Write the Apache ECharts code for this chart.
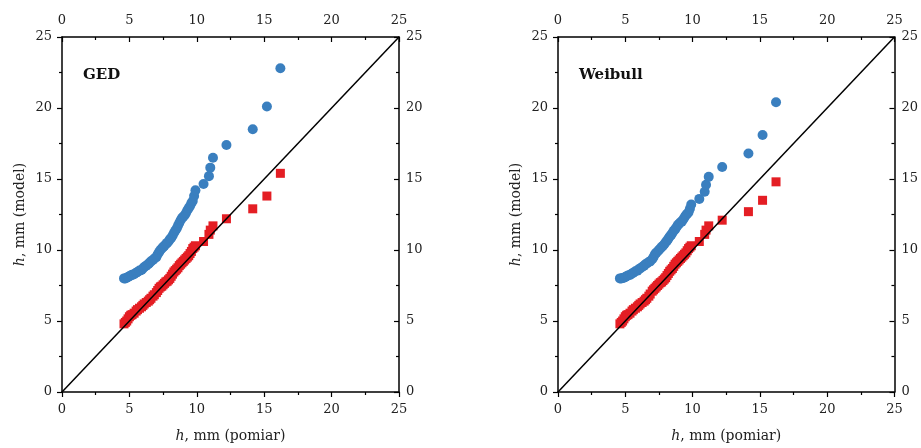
<!DOCTYPE html>
<html>
<head>
<meta charset="utf-8">
<script src="https://cdn.jsdelivr.net/npm/echarts@6/dist/echarts.min.js"></script>
<style>html,body{margin:0;padding:0;background:#fff}#c{width:921px;height:448px}</style>
</head>
<body>
<div id="c"></div>
<script>
// measured values (h, mm pomiar) – shared by both panels
const measured = [4.6,4.7,4.8,4.9,5.0,5.1,5.2,5.35,5.5,5.6,5.75,5.9,6.0,6.1,6.25,6.4,6.5,6.6,6.75,6.85,7.0,7.1,7.2,7.3,7.4,7.5,7.6,7.7,7.8,7.9,8.0,8.1,8.2,8.3,8.4,8.5,8.6,8.7,8.8,8.9,9.0,9.1,9.2,9.3,9.4,9.5,9.6,9.7,9.8,9.9,10.5,10.9,11.0,11.2,12.2,14.15,15.2,16.2];
// GED panel – blue circles and red squares (model values)
const gedBlue = [8.0,8.0,8.05,8.1,8.15,8.2,8.25,8.3,8.4,8.45,8.55,8.6,8.7,8.8,8.9,9.0,9.1,9.2,9.3,9.4,9.5,9.7,9.85,10.0,10.1,10.2,10.3,10.4,10.5,10.6,10.75,10.85,11.0,11.2,11.35,11.5,11.7,11.9,12.1,12.25,12.35,12.45,12.6,12.8,12.95,13.1,13.3,13.45,13.8,14.2,14.65,15.2,15.8,16.5,17.4,18.5,20.1,22.8];
const gedRed = [4.8,4.9,5.0,5.15,5.3,5.4,5.45,5.55,5.7,5.8,5.9,6.0,6.1,6.2,6.3,6.4,6.5,6.6,6.75,6.85,7.0,7.15,7.3,7.4,7.45,7.55,7.65,7.75,7.8,7.9,8.0,8.15,8.3,8.45,8.55,8.65,8.75,8.9,9.0,9.1,9.2,9.3,9.4,9.5,9.6,9.75,9.9,10.1,10.2,10.3,10.6,11.1,11.4,11.7,12.2,12.9,13.8,15.4];
// Weibull panel
const weiBlue = [8.0,8.0,8.03,8.05,8.1,8.15,8.2,8.25,8.35,8.4,8.5,8.55,8.65,8.7,8.8,8.9,9.0,9.05,9.15,9.2,9.35,9.5,9.7,9.8,9.9,10.0,10.1,10.2,10.3,10.4,10.55,10.65,10.8,10.95,11.05,11.2,11.35,11.45,11.6,11.75,11.85,11.95,12.0,12.15,12.3,12.45,12.55,12.65,12.9,13.2,13.6,14.1,14.6,15.15,15.85,16.8,18.1,20.4];
const weiRed = [4.8,4.9,5.0,5.15,5.3,5.4,5.45,5.55,5.7,5.8,5.9,6.0,6.1,6.2,6.3,6.4,6.5,6.6,6.75,6.9,7.1,7.2,7.3,7.4,7.5,7.6,7.7,7.75,7.85,7.95,8.05,8.2,8.35,8.5,8.6,8.7,8.85,9.0,9.1,9.2,9.3,9.4,9.5,9.6,9.7,9.8,9.95,10.1,10.2,10.3,10.6,11.1,11.4,11.7,12.1,12.7,13.5,14.8];
const diag = [0, 25];
const panelTitles = ['GED', 'Weibull'];
const xName = '{i|h}, mm (pomiar)';
const yName = '{i|h}, mm (model)';

const FONT = 'DejaVu Serif';
const BLUE = '#3a7fbf', RED = '#e41e24';
const lbl = {fontFamily: FONT, fontSize: 13, color: '#222'};
const rich = {i: {fontFamily: FONT, fontStyle: 'italic', fontSize: 14, color: '#222'}};
const lineStyle = {color: '#000', width: 1.5};

function pair(xs, ys){ return xs.map((x,i)=>[x, ys[i]]); }

const lefts = [62, 558];
const grids = [], xAxes = [], yAxes = [], series = [], titles = [];
[[gedBlue, gedRed],[weiBlue, weiRed]].forEach((d, p) => {
  grids.push({left: lefts[p], top: 37, width: 337, height: 356, containLabel: false});
  const base = {min: 0, max: 25, interval: 5, gridIndex: p,
    axisLine: {show: true, onZero: false, lineStyle},
    splitLine: {show: false},
    minorTick: {show: true, splitNumber: 2, length: 3, lineStyle: {color: '#000', width: 1.2}},
    axisLabel: Object.assign({margin: 8}, lbl)};
  xAxes.push(Object.assign({}, base, {type: 'value', position: 'bottom',
    axisTick: {inside: false, length: 5, lineStyle: {color: '#000', width: 1.2}},
    axisLabel: Object.assign({}, lbl, {margin: 11}),
    name: xName, nameLocation: 'middle', nameGap: 37,
    nameTextStyle: {fontFamily: FONT, fontSize: 14, color: '#222', rich}}));
  xAxes.push(Object.assign({}, base, {type: 'value', position: 'top',
    axisTick: {inside: true, length: 5, lineStyle: {color: '#000', width: 1.2}},
    axisLabel: Object.assign({}, lbl, {margin: 10})}));
  yAxes.push(Object.assign({}, base, {type: 'value', position: 'left',
    axisTick: {inside: false, length: 5, lineStyle: {color: '#000', width: 1.2}},
    axisLabel: Object.assign({}, lbl, {margin: 10}),
    name: yName, nameLocation: 'middle', nameGap: 35, nameRotate: 90,
    nameTextStyle: {fontFamily: FONT, fontSize: 14, color: '#222', rich}}));
  yAxes.push(Object.assign({}, base, {type: 'value', position: 'right',
    axisTick: {inside: true, length: 5, lineStyle: {color: '#000', width: 1.2}},
    axisLabel: Object.assign({}, lbl, {margin: 7})}));
  const xi = p*2, yi = p*2;
  series.push({type: 'scatter', xAxisIndex: xi, yAxisIndex: yi, data: pair(measured, d[1]),
    symbol: 'rect', symbolSize: 9, itemStyle: {color: RED, opacity: 1}, z: 2, silent: true});
  series.push({type: 'scatter', xAxisIndex: xi, yAxisIndex: yi, data: pair(measured, d[0]),
    symbol: 'circle', symbolSize: 10, itemStyle: {color: BLUE, opacity: 1}, z: 3, silent: true});
  series.push({type: 'line', xAxisIndex: xi, yAxisIndex: yi, data: pair(diag, diag),
    showSymbol: false, lineStyle: {color: '#000', width: 1.5}, z: 4, silent: true});
  titles.push({text: panelTitles[p], left: lefts[p] + 16, top: 63,
    textStyle: {fontFamily: FONT, fontWeight: 'bold', fontSize: 15, color: '#111'}});
});

const chart = echarts.init(document.getElementById('c'), null, {renderer: 'canvas'});
chart.setOption({
  animation: false,
  backgroundColor: '#fff',
  title: titles,
  grid: grids,
  xAxis: xAxes,
  yAxis: yAxes,
  series
});
</script>
</body>
</html>
